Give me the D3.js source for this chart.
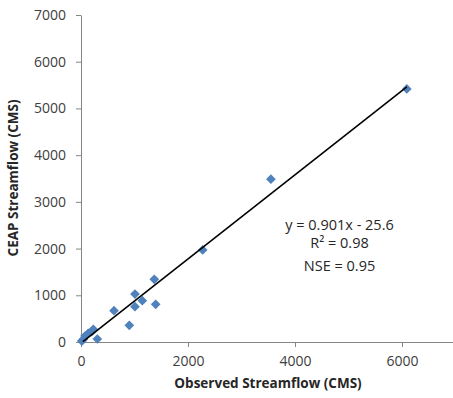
<!DOCTYPE html>
<html>
<head>
<meta charset="utf-8">
<script src="https://cdn.jsdelivr.net/npm/d3@7"></script>
<style>
  body { margin: 0; background: #fff; }
  text { font-family: "Open Sans", sans-serif; }
</style>
</head>
<body>
<div id="chart"></div>
<script>
// observed vs simulated streamflow (CMS)
var observed = [15, 45, 75, 135, 200, 230, 305, 617, 903, 1009, 1009, 1146, 1370, 1396, 2275, 3550, 6090];
var simulated = [20, 58, 128, 186, 220, 272, 64, 670, 357, 756, 1027, 884, 1342, 806, 1970, 3485, 5418];
var xTicks = [0, 2000, 4000, 6000];
var yTicks = [0, 1000, 2000, 3000, 4000, 5000, 6000, 7000];
var slope = 0.901, intercept = -25.6;
var statLines = ["y = 0.901x - 25.6", "R\u00b2 = 0.98", "NSE = 0.95"];

var W = 453, H = 398;
var margin = {top: 15, left: 81, bottom: 56};

var svg = d3.select("#chart")
  .append("svg")
  .attr("width", W)
  .attr("height", H);

var x = d3.scaleLinear().domain([0, 7000]).range([margin.left, 455.5]);
var y = d3.scaleLinear().domain([0, 7000]).range([H - margin.bottom, margin.top]);

var axisColor = "#868686";
var labelColor = "#404040";

// x axis
var gx = svg.append("g")
  .attr("transform", "translate(0," + y(0) + ")")
  .call(d3.axisBottom(x).tickValues(xTicks).tickFormat(d3.format("d"))
    .tickSize(5).tickPadding(9).tickSizeOuter(0));
// y axis
var gy = svg.append("g")
  .attr("transform", "translate(" + x(0) + ",0)")
  .call(d3.axisLeft(y).tickValues(yTicks).tickFormat(d3.format("d"))
    .tickSize(5).tickPadding(10).tickSizeOuter(0));

[gx, gy].forEach(function(g) {
  g.select(".domain").attr("stroke", axisColor).attr("stroke-width", 1);
  g.selectAll(".tick line").attr("stroke", axisColor);
  g.selectAll(".tick text")
    .attr("fill", labelColor)
    .style("font-size", "14px")
    .style("font-family", "'Open Sans', sans-serif");
});

// points
svg.append("g")
  .selectAll("path")
  .data(observed.map(function(d, i) { return [d, simulated[i]]; }))
  .join("path")
  .attr("d", d3.symbol().type(d3.symbolDiamond2).size(60))
  .attr("transform", function(d) { return "translate(" + x(d[0]) + "," + y(d[1]) + ")"; })
  .attr("fill", "#4F81BD");

// trend line
var xMin = d3.min(observed), xMax = d3.max(observed);
svg.append("line")
  .attr("x1", x(xMin + 20))
  .attr("y1", y(slope * (xMin + 20) + intercept))
  .attr("x2", x(xMax))
  .attr("y2", y(slope * xMax + intercept))
  .attr("stroke", "#000")
  .attr("stroke-width", 1.6);

// equation text
var baselines = [230, 248, 271];
svg.selectAll(".stat")
  .data(statLines)
  .join("text")
  .attr("class", "stat")
  .attr("x", 339.5)
  .attr("y", function(d, i) { return baselines[i]; })
  .attr("text-anchor", "middle")
  .attr("fill", "#262626")
  .style("font-size", "14.5px")
  .text(function(d) { return d; });

// axis titles
svg.append("text")
  .attr("x", 268)
  .attr("y", 388)
  .attr("text-anchor", "middle")
  .attr("fill", "#262626")
  .style("font-size", "13.5px")
  .style("font-weight", "bold")
  .text("Observed Streamflow (CMS)");

svg.append("text")
  .attr("transform", "translate(18,178) rotate(-90)")
  .attr("text-anchor", "middle")
  .attr("fill", "#262626")
  .style("font-size", "13.5px")
  .style("font-weight", "bold")
  .text("CEAP Streamflow (CMS)");
</script>
</body>
</html>
